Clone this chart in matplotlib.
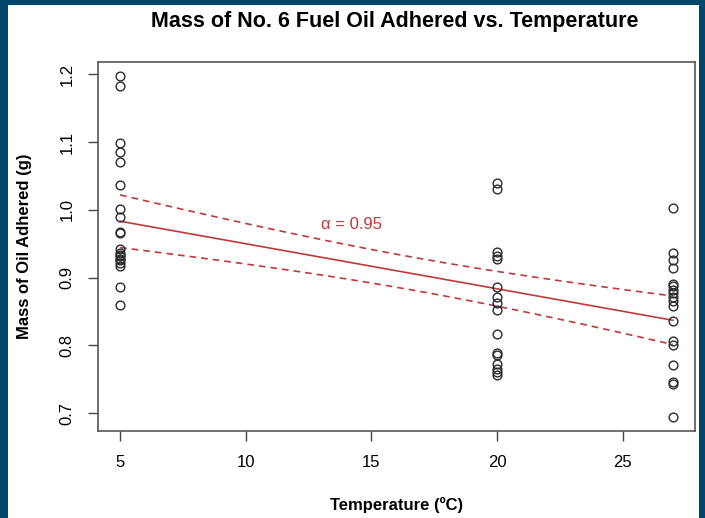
import numpy as np
import matplotlib
matplotlib.use("Agg")
import matplotlib.pyplot as plt

# data (temperature in C, mass in g)
temp_5 = [1.198, 1.183, 1.098, 1.085, 1.070, 1.036, 1.001, 0.989, 0.968, 0.966,
          0.942, 0.936, 0.934, 0.932, 0.928, 0.926, 0.922, 0.917, 0.886, 0.860]
temp_20 = [1.039, 1.031, 0.938, 0.932, 0.927, 0.886, 0.871, 0.863, 0.853, 0.817,
           0.789, 0.786, 0.772, 0.766, 0.761, 0.757]
temp_27 = [1.003, 0.937, 0.926, 0.914, 0.891, 0.887, 0.882, 0.877, 0.871, 0.865,
           0.858, 0.836, 0.806, 0.801, 0.771, 0.746, 0.743, 0.694]
temps = [5, 20, 27]
xticks = [5, 10, 15, 20, 25]
yticks = [0.7, 0.8, 0.9, 1.0, 1.1, 1.2]
t_crit = 2.009  # 95% two-sided, df ~ 50

x = np.concatenate([np.full(len(v), t) for v, t in zip([temp_5, temp_20, temp_27], temps)])
y = np.concatenate([temp_5, temp_20, temp_27])

# linear fit + confidence band for the mean
n = len(x)
slope, icpt = np.polyfit(x, y, 1)
resid = y - (slope * x + icpt)
s = np.sqrt(np.sum(resid**2) / (n - 2))
sxx = np.sum((x - x.mean())**2)
xs = np.linspace(x.min(), x.max(), 100)
fit = slope * xs + icpt
half = t_crit * s * np.sqrt(1.0 / n + (xs - x.mean())**2 / sxx)

plt.rcParams['font.family'] = ['Liberation Sans', 'DejaVu Sans']

fig = plt.figure(figsize=(7.05, 5.18), dpi=100)
fig.patch.set_facecolor('#00466a')
# white panel inside the dark frame
bg = fig.add_axes([8/705, 0, 1 - 14/705, 1 - 5/518])
bg.set_facecolor('white')
bg.set_xticks([]); bg.set_yticks([])
for sp in bg.spines.values():
    sp.set_visible(False)

ax = fig.add_axes([98/705, 1 - 431/518, 597/705, 369/518])
red = '#c0393b'
ax.plot(xs, fit, color=red, lw=1.2)
ax.plot(xs, fit + half, color=red, lw=1.2, ls=(0, (4, 3)))
ax.plot(xs, fit - half, color=red, lw=1.2, ls=(0, (4, 3)))
ax.plot(x, y, 'o', mfc='none', mec='#2b2b2b', ms=6.3, mew=1.0)

ax.text(14.2, 0.978, 'α = 0.95', color=red, fontsize=12, ha='center', va='center')

xr = x.max() - x.min()
yr = y.max() - y.min()
ax.set_xlim(x.min() - 0.04 * xr, x.max() + 0.04 * xr)
ax.set_ylim(y.min() - 0.04 * yr, y.max() + 0.04 * yr)
ax.set_xticks(xticks)
ax.set_yticks(yticks)
ax.set_yticklabels([f'{v:.1f}' for v in yticks], rotation=90, va='center')
ax.tick_params(direction='out', length=7, width=1, color='#444444',
               labelsize=12, pad=10)
for sp in ax.spines.values():
    sp.set_color('#555555')
    sp.set_linewidth(1.2)

ax.set_xlabel('Temperature (ºC)', fontsize=12, fontweight='bold', labelpad=20)
ax.set_ylabel('Mass of Oil Adhered (g)', fontsize=12, fontweight='bold', labelpad=20)
fig.text(395/705, 1 - 22/518, 'Mass of No. 6 Fuel Oil Adhered vs. Temperature',
         fontsize=15.5, fontweight='bold', ha='center', va='center')

fig.savefig('out.png', dpi=100, facecolor=fig.get_facecolor())
